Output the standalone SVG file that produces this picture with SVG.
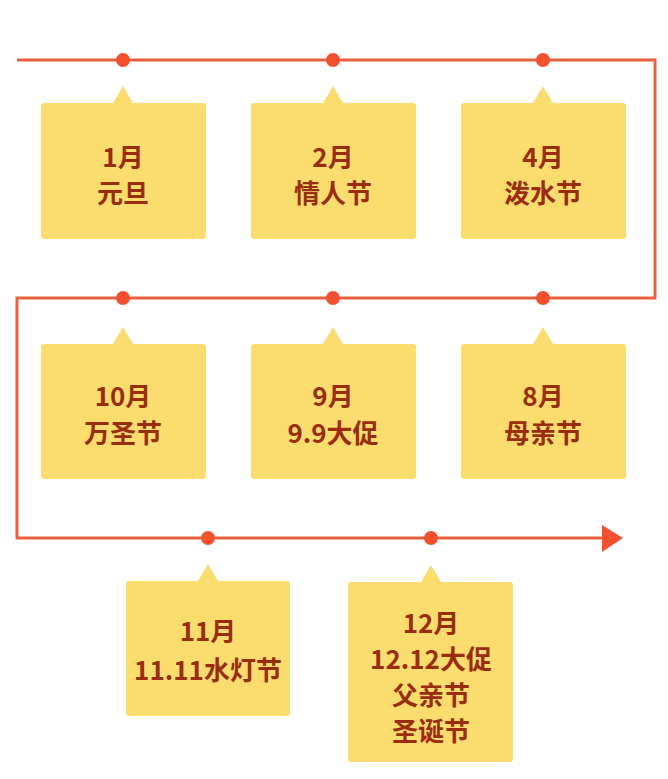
<svg xmlns="http://www.w3.org/2000/svg" width="668" height="779" viewBox="0 0 668 779">
<style>
.line{fill:none;stroke:#e8603f;stroke-width:3;}
.dot{fill:#f2502e;}
.box{fill:#fadc6f;}
.t{font-family:"Noto Sans CJK SC","Noto Sans",sans-serif;font-weight:bold;font-size:26px;fill:#9a2d10;text-anchor:middle;dominant-baseline:central;}
</style>
<rect width="668" height="779" fill="#ffffff"/>
<g id="connectors">
<path class="line" d="M17,60 H655 V298 H17 V538 H604"/>
<polygon points="602,525 623,538 602,552" fill="#f2502e"/>
</g>
<g id="n1">
<circle class="dot" cx="123" cy="60" r="7"/>
<path class="box" d="M41,106 Q41,103 44,103 H113 L123,86 L133,103 H203 Q206,103 206,106 V236 Q206,239 203,239 H44 Q41,239 41,236 Z"/>
<text class="t" x="123" y="155">1月</text>
<text class="t" x="123" y="191">元旦</text>
</g>
<g id="n2">
<circle class="dot" cx="333" cy="60" r="7"/>
<path class="box" d="M251,106 Q251,103 254,103 H323 L333,86 L343,103 H413 Q416,103 416,106 V236 Q416,239 413,239 H254 Q251,239 251,236 Z"/>
<text class="t" x="333" y="155">2月</text>
<text class="t" x="333" y="191">情人节</text>
</g>
<g id="n4">
<circle class="dot" cx="543" cy="60" r="7"/>
<path class="box" d="M461,106 Q461,103 464,103 H533 L543,86 L553,103 H623 Q626,103 626,106 V236 Q626,239 623,239 H464 Q461,239 461,236 Z"/>
<text class="t" x="543" y="155">4月</text>
<text class="t" x="543" y="191">泼水节</text>
</g>
<g id="n10">
<circle class="dot" cx="123" cy="298" r="7"/>
<path class="box" d="M41,347 Q41,344 44,344 H113 L123,327 L133,344 H203 Q206,344 206,347 V476 Q206,479 203,479 H44 Q41,479 41,476 Z"/>
<text class="t" x="123" y="394">10月</text>
<text class="t" x="123" y="431">万圣节</text>
</g>
<g id="n9">
<circle class="dot" cx="333" cy="298" r="7"/>
<path class="box" d="M251,347 Q251,344 254,344 H323 L333,327 L343,344 H413 Q416,344 416,347 V476 Q416,479 413,479 H254 Q251,479 251,476 Z"/>
<text class="t" x="333" y="394">9月</text>
<text class="t" x="333" y="431">9.9大促</text>
</g>
<g id="n8">
<circle class="dot" cx="543" cy="298" r="7"/>
<path class="box" d="M461,347 Q461,344 464,344 H533 L543,327 L553,344 H623 Q626,344 626,347 V476 Q626,479 623,479 H464 Q461,479 461,476 Z"/>
<text class="t" x="543" y="394">8月</text>
<text class="t" x="543" y="431">母亲节</text>
</g>
<g id="n11">
<circle class="dot" cx="208" cy="538" r="7"/>
<path class="box" d="M126,584 Q126,581 129,581 H198 L208,564 L218,581 H287 Q290,581 290,584 V713 Q290,716 287,716 H129 Q126,716 126,713 Z"/>
<text class="t" x="208" y="629">11月</text>
<text class="t" x="208" y="668">11.11水灯节</text>
</g>
<g id="n12">
<circle class="dot" cx="431" cy="538" r="7"/>
<path class="box" d="M348,585 Q348,582 351,582 H421 L431,565 L441,582 H510 Q513,582 513,585 V759 Q513,762 510,762 H351 Q348,762 348,759 Z"/>
<text class="t" x="431" y="621">12月</text>
<text class="t" x="431" y="657">12.12大促</text>
<text class="t" x="431" y="693">父亲节</text>
<text class="t" x="431" y="729">圣诞节</text>
</g>
</svg>
